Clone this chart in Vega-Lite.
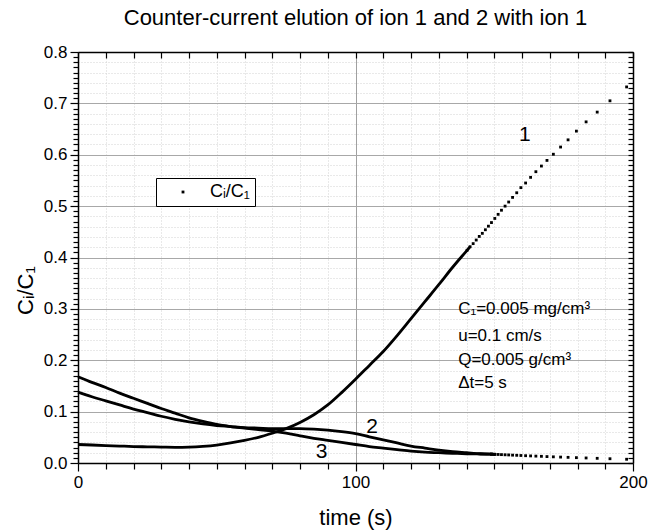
{
  "$schema": "https://vega.github.io/schema/vega-lite/v6.json",
  "width": 555,
  "height": 411,
  "autosize": {"type": "none"},
  "padding": {"left": 78, "top": 52, "right": 29, "bottom": 69},
  "background": "white",
  "config": {"font": "Liberation Sans", "view": {"stroke": null}},
  "title": {"text": "Counter-current elution of ion 1 and 2 with ion 1", "fontSize": 22, "fontWeight": "normal", "color": "black", "anchor": "middle", "offset": 13, "font": "Liberation Sans"},
  "datasets": {
    "curves": [
      {"c": "1", "t": 0, "v": 0.036}, {"c": "1", "t": 5, "v": 0.035}, {"c": "1", "t": 10, "v": 0.034}, {"c": "1", "t": 15, "v": 0.033},
      {"c": "1", "t": 20, "v": 0.032}, {"c": "1", "t": 25, "v": 0.0315}, {"c": "1", "t": 30, "v": 0.031}, {"c": "1", "t": 35, "v": 0.0305},
      {"c": "1", "t": 40, "v": 0.031}, {"c": "1", "t": 45, "v": 0.0325}, {"c": "1", "t": 50, "v": 0.035}, {"c": "1", "t": 55, "v": 0.039},
      {"c": "1", "t": 60, "v": 0.044}, {"c": "1", "t": 65, "v": 0.05}, {"c": "1", "t": 70, "v": 0.058}, {"c": "1", "t": 75, "v": 0.067},
      {"c": "1", "t": 80, "v": 0.079}, {"c": "1", "t": 85, "v": 0.094}, {"c": "1", "t": 90, "v": 0.113}, {"c": "1", "t": 95, "v": 0.137},
      {"c": "1", "t": 100, "v": 0.163}, {"c": "1", "t": 105, "v": 0.19}, {"c": "1", "t": 110, "v": 0.217}, {"c": "1", "t": 115, "v": 0.248},
      {"c": "1", "t": 120, "v": 0.281}, {"c": "1", "t": 125, "v": 0.314}, {"c": "1", "t": 130, "v": 0.347}, {"c": "1", "t": 135, "v": 0.381},
      {"c": "1", "t": 140.2, "v": 0.414}, {"c": "1", "t": 141.3, "v": 0.421}, {"c": "1", "t": 142.4, "v": 0.427}, {"c": "1", "t": 143.5, "v": 0.434},
      {"c": "1", "t": 144.6, "v": 0.441}, {"c": "1", "t": 145.7, "v": 0.447}, {"c": "1", "t": 146.8, "v": 0.454}, {"c": "1", "t": 147.9, "v": 0.461},
      {"c": "1", "t": 149.0, "v": 0.468}, {"c": "1", "t": 150.2, "v": 0.476}, {"c": "1", "t": 151.4, "v": 0.484}, {"c": "1", "t": 152.6, "v": 0.492},
      {"c": "1", "t": 153.9, "v": 0.5}, {"c": "1", "t": 155.2, "v": 0.508}, {"c": "1", "t": 156.6, "v": 0.517}, {"c": "1", "t": 158.1, "v": 0.526},
      {"c": "1", "t": 159.6, "v": 0.536}, {"c": "1", "t": 161.3, "v": 0.545}, {"c": "1", "t": 163.1, "v": 0.556}, {"c": "1", "t": 165.0, "v": 0.567},
      {"c": "1", "t": 167.0, "v": 0.578}, {"c": "1", "t": 169.0, "v": 0.589}, {"c": "1", "t": 171.3, "v": 0.601}, {"c": "1", "t": 173.9, "v": 0.615},
      {"c": "1", "t": 176.6, "v": 0.629}, {"c": "1", "t": 179.6, "v": 0.646}, {"c": "1", "t": 183.1, "v": 0.664}, {"c": "1", "t": 187.1, "v": 0.683},
      {"c": "1", "t": 191.7, "v": 0.705}, {"c": "1", "t": 197.7, "v": 0.732},
      {"c": "2", "t": 0, "v": 0.138}, {"c": "2", "t": 5, "v": 0.129}, {"c": "2", "t": 10, "v": 0.121}, {"c": "2", "t": 15, "v": 0.113},
      {"c": "2", "t": 20, "v": 0.105}, {"c": "2", "t": 25, "v": 0.098}, {"c": "2", "t": 30, "v": 0.091}, {"c": "2", "t": 35, "v": 0.085},
      {"c": "2", "t": 40, "v": 0.08}, {"c": "2", "t": 45, "v": 0.076}, {"c": "2", "t": 50, "v": 0.073}, {"c": "2", "t": 55, "v": 0.071},
      {"c": "2", "t": 60, "v": 0.069}, {"c": "2", "t": 65, "v": 0.068}, {"c": "2", "t": 70, "v": 0.067}, {"c": "2", "t": 75, "v": 0.067},
      {"c": "2", "t": 80, "v": 0.067}, {"c": "2", "t": 85, "v": 0.066}, {"c": "2", "t": 90, "v": 0.064}, {"c": "2", "t": 95, "v": 0.061},
      {"c": "2", "t": 100, "v": 0.057}, {"c": "2", "t": 105, "v": 0.051}, {"c": "2", "t": 110, "v": 0.045}, {"c": "2", "t": 115, "v": 0.039},
      {"c": "2", "t": 120, "v": 0.033}, {"c": "2", "t": 125, "v": 0.029}, {"c": "2", "t": 130, "v": 0.025}, {"c": "2", "t": 135, "v": 0.022},
      {"c": "2", "t": 140, "v": 0.02}, {"c": "2", "t": 145, "v": 0.018},
      {"c": "2", "t": 149.0, "v": 0.0172}, {"c": "2", "t": 150.2, "v": 0.0169}, {"c": "2", "t": 151.4, "v": 0.0166}, {"c": "2", "t": 152.6, "v": 0.0163},
      {"c": "2", "t": 153.9, "v": 0.016}, {"c": "2", "t": 155.2, "v": 0.0157}, {"c": "2", "t": 156.6, "v": 0.0153}, {"c": "2", "t": 158.1, "v": 0.015},
      {"c": "2", "t": 159.6, "v": 0.0146}, {"c": "2", "t": 161.3, "v": 0.0142}, {"c": "2", "t": 163.1, "v": 0.0138}, {"c": "2", "t": 165.0, "v": 0.0134},
      {"c": "2", "t": 167.0, "v": 0.013}, {"c": "2", "t": 169.0, "v": 0.0125}, {"c": "2", "t": 171.3, "v": 0.012}, {"c": "2", "t": 173.9, "v": 0.0115},
      {"c": "2", "t": 176.6, "v": 0.011}, {"c": "2", "t": 179.6, "v": 0.0104}, {"c": "2", "t": 183.1, "v": 0.0098}, {"c": "2", "t": 187.1, "v": 0.0091},
      {"c": "2", "t": 191.7, "v": 0.0083}, {"c": "2", "t": 197.7, "v": 0.0073},
      {"c": "3", "t": 0, "v": 0.168}, {"c": "3", "t": 5, "v": 0.157}, {"c": "3", "t": 10, "v": 0.147}, {"c": "3", "t": 15, "v": 0.136},
      {"c": "3", "t": 20, "v": 0.126}, {"c": "3", "t": 25, "v": 0.116}, {"c": "3", "t": 30, "v": 0.106}, {"c": "3", "t": 35, "v": 0.097},
      {"c": "3", "t": 40, "v": 0.088}, {"c": "3", "t": 45, "v": 0.081}, {"c": "3", "t": 50, "v": 0.075}, {"c": "3", "t": 55, "v": 0.071},
      {"c": "3", "t": 60, "v": 0.068}, {"c": "3", "t": 65, "v": 0.065}, {"c": "3", "t": 70, "v": 0.062}, {"c": "3", "t": 75, "v": 0.058},
      {"c": "3", "t": 80, "v": 0.053}, {"c": "3", "t": 85, "v": 0.048}, {"c": "3", "t": 90, "v": 0.044}, {"c": "3", "t": 95, "v": 0.04},
      {"c": "3", "t": 100, "v": 0.036}, {"c": "3", "t": 105, "v": 0.032}, {"c": "3", "t": 110, "v": 0.029}, {"c": "3", "t": 115, "v": 0.026},
      {"c": "3", "t": 120, "v": 0.023}, {"c": "3", "t": 125, "v": 0.021}, {"c": "3", "t": 130, "v": 0.02}, {"c": "3", "t": 135, "v": 0.019},
      {"c": "3", "t": 140, "v": 0.018}, {"c": "3", "t": 145, "v": 0.0175}, {"c": "3", "t": 149.0, "v": 0.0172}, {"c": "3", "t": 150.2, "v": 0.0169}
    ],
    "numbers": [
      {"t": 161, "v": 0.638, "label": "1"},
      {"t": 106, "v": 0.071, "label": "2"},
      {"t": 87.8, "v": 0.022, "label": "3"}
    ],
    "params": [
      {"t": 137, "v": 0.2996, "label": "C₁=0.005 mg/cm³"},
      {"t": 137, "v": 0.247, "label": "u=0.1 cm/s"},
      {"t": 137, "v": 0.2, "label": "Q=0.005 g/cm³"},
      {"t": 137, "v": 0.156, "label": "Δt=5 s"}
    ]
  },
  "layer": [
    {
      "data": {"name": "curves"},
      "transform": [{"filter": "datum.c == '1' ? datum.t <= 141.3 : datum.t <= 150.2"}],
      "mark": {"type": "line", "color": "black", "strokeWidth": 2.8, "interpolate": "monotone"},
      "encoding": {
        "x": {"field": "t", "type": "quantitative", "scale": {"domain": [0, 200], "nice": false, "zero": false},
          "axis": {"orient": "bottom", "values": [0,10,20,30,40,50,60,70,80,90,100,110,120,130,140,150,160,170,180,190,200],
            "labelExpr": "datum.value % 100 == 0 ? datum.label : ''", "labelOverlap": false, "labelFlush": false,
            "labelFontSize": 17, "labelColor": "black", "labelPadding": 3, "labelFont": "Liberation Sans",
            "tickSize": {"condition": {"test": "datum.value % 100 == 0", "value": 8}, "value": 6},
            "tickColor": "black", "tickWidth": 1.2, "domainColor": "black", "domainWidth": 1.5,
            "grid": true,
            "gridColor": {"condition": {"test": "datum.value == 100", "value": "#a0a0a0"}, "value": "#d2d2d2"},
            "gridDash": {"condition": {"test": "datum.value == 100", "value": []}, "value": [1, 2]},
            "title": "time (s)", "titleFontSize": 22, "titleFontWeight": "normal", "titleColor": "black", "titlePadding": 17, "titleFont": "Liberation Sans"}},
        "y": {"field": "v", "type": "quantitative", "scale": {"domain": [0, 0.8], "nice": false},
          "axis": {"orient": "left", "values": [0,0.01,0.02,0.03,0.04,0.05,0.06,0.07,0.08,0.09,0.1,0.11,0.12,0.13,0.14,0.15,0.16,0.17,0.18,0.19,0.2,0.21,0.22,0.23,0.24,0.25,0.26,0.27,0.28,0.29,0.3,0.31,0.32,0.33,0.34,0.35,0.36,0.37,0.38,0.39,0.4,0.41,0.42,0.43,0.44,0.45,0.46,0.47,0.48,0.49,0.5,0.51,0.52,0.53,0.54,0.55,0.56,0.57,0.58,0.59,0.6,0.61,0.62,0.63,0.64,0.65,0.66,0.67,0.68,0.69,0.7,0.71,0.72,0.73,0.74,0.75,0.76,0.77,0.78,0.79,0.8],
            "labelExpr": "abs(datum.value*10 - round(datum.value*10)) < 0.001 ? format(datum.value, '.1f') : ''",
            "labelOverlap": false, "labelFontSize": 17, "labelColor": "black", "labelPadding": 3, "labelFont": "Liberation Sans",
            "tickSize": {"condition": {"test": "abs(datum.value*10 - round(datum.value*10)) < 0.001", "value": 8}, "value": 5},
            "tickColor": "black", "tickWidth": 1.2, "domainColor": "black", "domainWidth": 1.5,
            "grid": true,
            "gridColor": {"condition": {"test": "abs(datum.value*10 - round(datum.value*10)) < 0.001", "value": "#a8a8a8"}, "value": "#d2d2d2"},
            "gridDash": {"condition": {"test": "abs(datum.value*10 - round(datum.value*10)) < 0.001", "value": []}, "value": [1, 2]},
            "gridOpacity": {"condition": {"test": "abs(datum.value*50 - round(datum.value*50)) < 0.001", "value": 1}, "value": 0},
            "title": "Cᵢ/C₁", "titleFontSize": 22, "titleFontWeight": "normal", "titleColor": "black", "titleFont": "Liberation Sans",
            "titleY": 238, "titleX": -41}},
        "detail": {"field": "c"}
      }
    },
    {
      "data": {"name": "curves"},
      "transform": [{"filter": "datum.c == '1' ? datum.t >= 140 : datum.t >= 149"}],
      "mark": {"type": "point", "shape": "square", "filled": true, "size": 8, "opacity": 1},
      "encoding": {
        "x": {"field": "t", "type": "quantitative", "scale": {"domain": [0, 200], "nice": false, "zero": false},
          "axis": {"orient": "top", "values": [0,10,20,30,40,50,60,70,80,90,100,110,120,130,140,150,160,170,180,190,200],
            "labels": false, "tickSize": -6, "tickColor": "black", "tickWidth": 1.2, "domainColor": "black", "domainWidth": 1.5, "grid": false, "title": null}},
        "y": {"field": "v", "type": "quantitative", "scale": {"domain": [0, 0.8], "nice": false},
          "axis": {"orient": "right", "values": [0,0.01,0.02,0.03,0.04,0.05,0.06,0.07,0.08,0.09,0.1,0.11,0.12,0.13,0.14,0.15,0.16,0.17,0.18,0.19,0.2,0.21,0.22,0.23,0.24,0.25,0.26,0.27,0.28,0.29,0.3,0.31,0.32,0.33,0.34,0.35,0.36,0.37,0.38,0.39,0.4,0.41,0.42,0.43,0.44,0.45,0.46,0.47,0.48,0.49,0.5,0.51,0.52,0.53,0.54,0.55,0.56,0.57,0.58,0.59,0.6,0.61,0.62,0.63,0.64,0.65,0.66,0.67,0.68,0.69,0.7,0.71,0.72,0.73,0.74,0.75,0.76,0.77,0.78,0.79,0.8],
            "labels": false, "tickSize": -5, "tickColor": "black", "tickWidth": 1.2, "domainColor": "black", "domainWidth": 1.5, "grid": false, "title": null}},
        "color": {"datum": "Cᵢ/C₁", "type": "nominal", "scale": {"range": ["black"]},
          "legend": {"orient": "none", "legendX": 78, "legendY": 126, "title": null, "strokeColor": "black", "fillColor": "white",
            "padding": 5, "columnPadding": 0, "symbolType": "square", "symbolSize": 8, "symbolFillColor": "black", "symbolStrokeWidth": 0,
            "symbolOffset": 13, "labelOffset": 18, "labelFontSize": 18, "labelColor": "black", "labelFont": "Liberation Sans"}}
      }
    },
    {
      "data": {"name": "numbers"},
      "mark": {"type": "text", "fontSize": 21, "align": "center", "baseline": "middle", "color": "black", "font": "Liberation Sans"},
      "encoding": {
        "x": {"field": "t", "type": "quantitative", "scale": {"domain": [0, 200], "nice": false, "zero": false}, "axis": null},
        "y": {"field": "v", "type": "quantitative", "scale": {"domain": [0, 0.8], "nice": false}, "axis": null},
        "text": {"field": "label"}
      }
    },
    {
      "data": {"name": "params"},
      "mark": {"type": "text", "fontSize": 17, "align": "left", "baseline": "middle", "color": "black", "font": "Liberation Sans"},
      "encoding": {
        "x": {"field": "t", "type": "quantitative", "scale": {"domain": [0, 200], "nice": false, "zero": false}, "axis": null},
        "y": {"field": "v", "type": "quantitative", "scale": {"domain": [0, 0.8], "nice": false}, "axis": null},
        "text": {"field": "label"}
      }
    }
  ],
  "resolve": {"axis": {"x": "independent", "y": "independent"}}
}
